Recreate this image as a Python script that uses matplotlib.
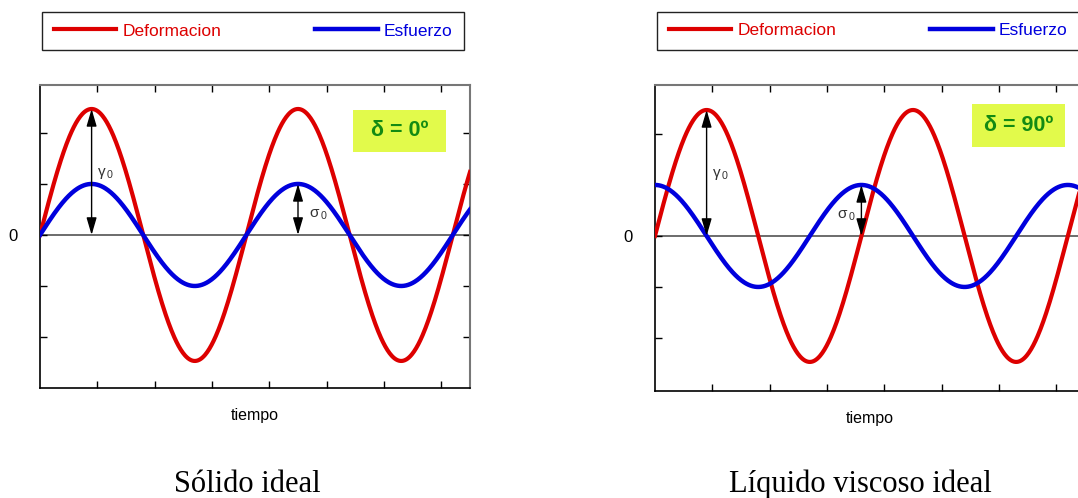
import matplotlib.pyplot as plt
import numpy as np
from matplotlib.patches import Rectangle

plt.rcParams['font.family'] = ['Liberation Sans', 'DejaVu Sans']

# datos
titulos = ["Sólido ideal", "Líquido viscoso ideal"]
desfases = [0, 90]                 # grados
etiquetas_delta = ["δ = 0º", "δ = 90º"]
periodo = 3.6                      # en unidades de marca del eje x
amp_deformacion = 2.47
amp_esfuerzo = 1.0
t_fin = 7.5
marcas_x = [1, 2, 3, 4, 5, 6, 7]
marcas_y = [-2, -1, 0, 1, 2]
etiquetas_y = ["", "", "0", "", ""]

rojo = "#dd0000"
azul = "#0000dd"

fig = plt.figure(figsize=(10.78, 4.98), dpi=100)
ax1 = fig.add_axes([40/1078, 110/498, 430/1078, 303/498])
ax2 = fig.add_axes([655/1078, 107/498, 430/1078, 306/498])
limites_y = [(-3.0, 2.94), (-3.04, 2.96)]
centros_titulo = [247/1078, 860/1078]

for i, ax in enumerate([ax1, ax2]):
    delta = desfases[i]
    t = np.linspace(0, t_fin, 600)
    w = 2 * np.pi / periodo
    deformacion = amp_deformacion * np.sin(w * t)
    esfuerzo = amp_esfuerzo * np.sin(w * t + np.radians(delta))

    ax.axhline(0, color="#444444", lw=1.1, zorder=1)
    ax.plot(t, deformacion, color=rojo, lw=3, label="Deformacion", zorder=3)
    ax.plot(t, esfuerzo, color=azul, lw=3.2, label="Esfuerzo", zorder=3)

    ax.set_xlim(0, t_fin)
    ax.set_ylim(*limites_y[i])
    ax.set_xticks(marcas_x)
    ax.set_xticklabels([])
    ax.set_yticks(marcas_y)
    ax.set_yticklabels(etiquetas_y)
    ax.tick_params(axis="both", direction="in", top=True, right=True,
                   length=5, width=1, labelsize=12)
    ax.tick_params(axis="y", pad=16)
    for lado in ["left", "bottom"]:
        ax.spines[lado].set_color("black")
        ax.spines[lado].set_linewidth(1.2)
    for lado in ["top", "right"]:
        ax.spines[lado].set_color("#777777")
        ax.spines[lado].set_linewidth(1.5)

    ax.set_xlabel("tiempo", fontsize=11.5, labelpad=11)

    # flechas de amplitud
    flecha = dict(arrowstyle="<|-|>,head_length=0.75,head_width=0.22",
                  color="black", lw=1.0, shrinkA=0, shrinkB=0,
                  mutation_scale=14)
    t_gamma = periodo / 4
    t_sigma = periodo * (1.25 - delta / 360)
    ax.annotate("", xy=(t_gamma, amp_deformacion), xytext=(t_gamma, 0),
                arrowprops=flecha, zorder=5)
    ax.annotate("", xy=(t_sigma, amp_esfuerzo), xytext=(t_sigma, 0),
                arrowprops=flecha, zorder=5)
    ax.text(t_gamma + 0.1, 1.2, r"$\mathregular{γ_{\,0}}$", fontsize=11,
            color="#333333", va="center", ha="left", zorder=6)
    if i == 0:
        ax.text(t_sigma + 0.19, 0.4, r"$\mathregular{σ_{\,0}}$", fontsize=11,
                color="#333333", va="center", ha="left", zorder=6)
    else:
        ax.text(t_sigma - 0.1, 0.4, r"$\mathregular{σ_{\,0}}$", fontsize=11,
                color="#333333", va="center", ha="right", zorder=6)

    # recuadro del desfase
    cajas = [(0.727, 0.779), (0.737, 0.798)]
    ax.add_patch(Rectangle(cajas[i], 0.217, 0.139, transform=ax.transAxes,
                           facecolor="#e2fa4b", edgecolor="none", zorder=4))
    ax.text(cajas[i][0] + 0.1085, cajas[i][1] + 0.0695, etiquetas_delta[i],
            transform=ax.transAxes, ha="center", va="center",
            fontsize=15.5, fontweight="bold", color="#138a13", zorder=5)

    # leyenda
    leg = ax.legend(loc="lower left", bbox_to_anchor=(0.005, 1.1155, 0.981, 0.13),
                    mode="expand", ncol=2, borderaxespad=0, fancybox=False,
                    edgecolor="#222222", framealpha=1, handlelength=3.6,
                    handletextpad=0.35, borderpad=0.66, fontsize=12.5)
    leg.get_frame().set_linewidth(1.0)
    for texto, linea in zip(leg.get_texts(), leg.get_lines()):
        texto.set_color(linea.get_color())

    fig.text(centros_titulo[i], 0.013, titulos[i], ha="center", va="baseline",
             fontsize=22, family="Liberation Serif")

fig.savefig("out.png", dpi=100)
